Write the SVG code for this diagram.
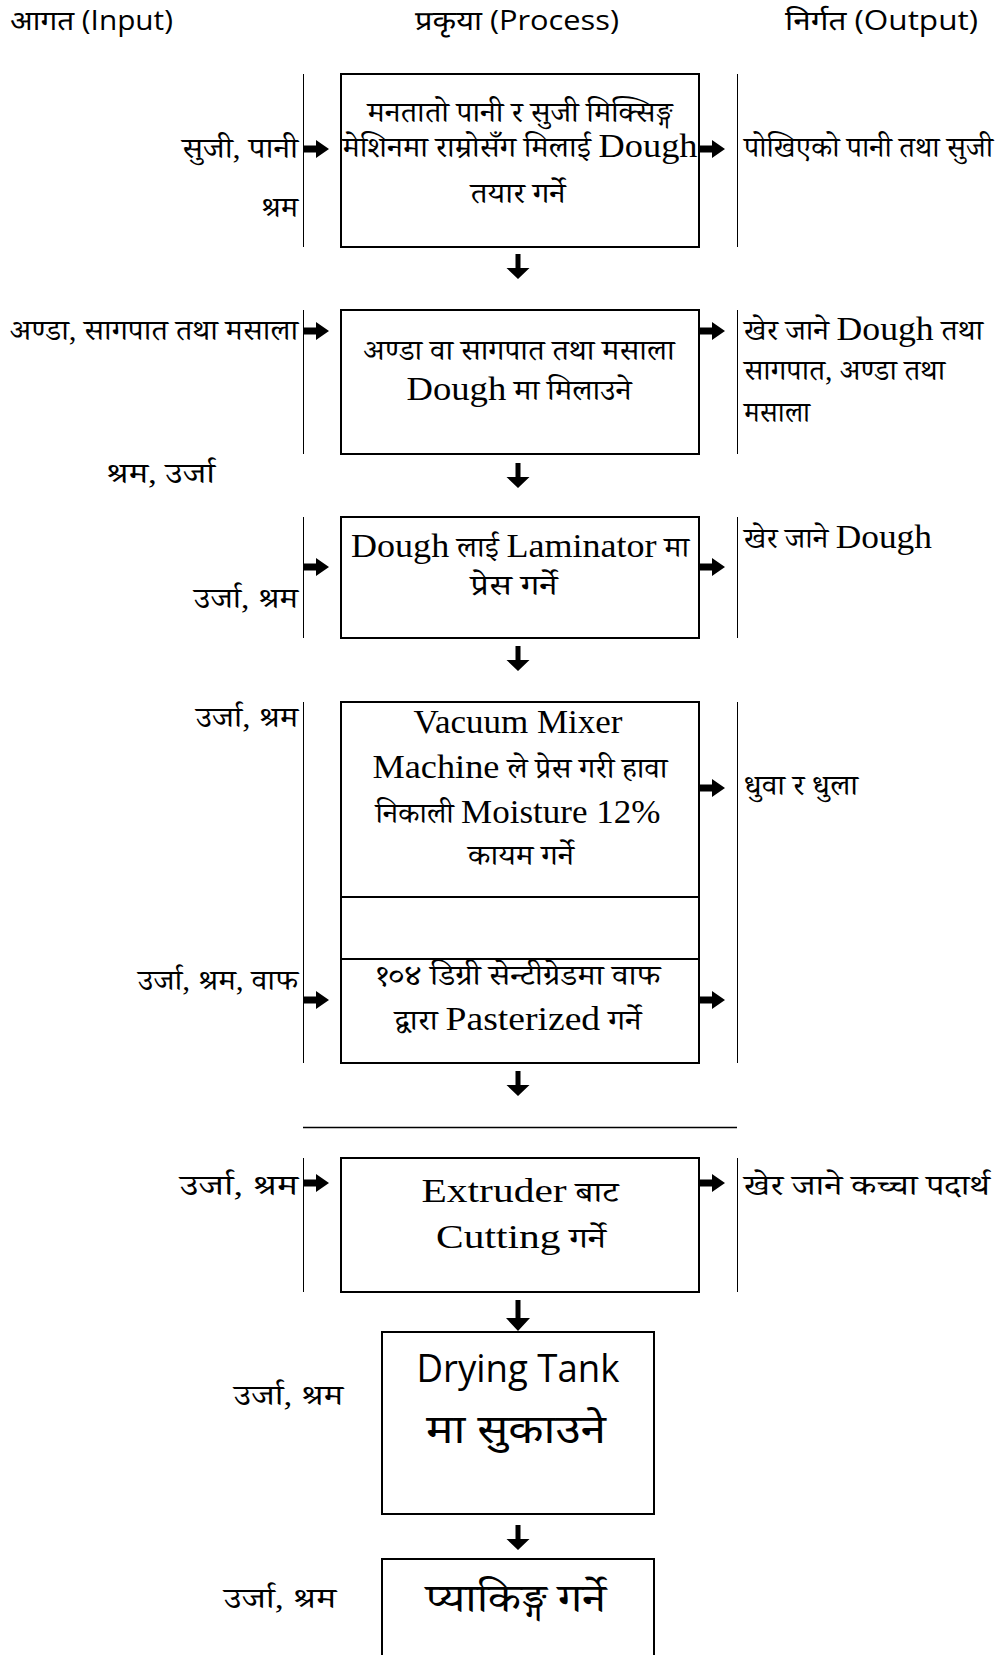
<svg xmlns="http://www.w3.org/2000/svg" width="1000" height="1655" viewBox="0 0 1000 1655">
<style>
.dv{font-family:"Liberation Serif","Noto Serif Devanagari","Noto Sans Devanagari","Lohit Devanagari",serif;font-size:29px;fill:#000}
.lt{font-family:"Liberation Serif",serif;font-size:34px}
.hd{font-family:"Open Sans","Noto Sans Devanagari",sans-serif;font-size:30px;fill:#000}
.top{font-size:27px}
.big{font-size:40px}
.box{fill:#fff;stroke:#000;stroke-width:2}
.vl{stroke:#000;stroke-width:1;fill:none}
.arr{fill:#000}
</style>
<defs>
<path id="ra" d="M0,-3.5H12V-9L25,0L12,9V3.5H0Z"/>
<path id="da" d="M-2.5,0H2.5V14H11.5L0,25L-11.5,14H-2.5Z"/>
</defs>
<rect width="1000" height="1655" fill="#fff"/>

<g id="header">
<text class="hd top" x="10" y="30" textLength="163" lengthAdjust="spacingAndGlyphs">आगत (Input)</text>
<text class="hd top" x="415" y="30" textLength="204" lengthAdjust="spacingAndGlyphs">प्रकृया (Process)</text>
<text class="hd top" x="785" y="30" textLength="193" lengthAdjust="spacingAndGlyphs">निर्गत (Output)</text>
</g>

<g id="connectors">
<line class="vl" x1="303.5" y1="74" x2="303.5" y2="247"/>
<line class="vl" x1="737.5" y1="74" x2="737.5" y2="247"/>
<line class="vl" x1="303.5" y1="310" x2="303.5" y2="454"/>
<line class="vl" x1="737.5" y1="310" x2="737.5" y2="454"/>
<line class="vl" x1="303.5" y1="517" x2="303.5" y2="638"/>
<line class="vl" x1="737.5" y1="517" x2="737.5" y2="638"/>
<line class="vl" x1="303.5" y1="702" x2="303.5" y2="1063"/>
<line class="vl" x1="737.5" y1="702" x2="737.5" y2="1063"/>
<line class="vl" x1="303.5" y1="1158" x2="303.5" y2="1292"/>
<line class="vl" x1="737.5" y1="1158" x2="737.5" y2="1292"/>
<line class="vl" x1="303" y1="1127.5" x2="737" y2="1127.5" style="stroke-width:1.5"/>
<g class="arr">
<use href="#ra" x="304" y="149"/>
<use href="#ra" x="700" y="149"/>
<use href="#ra" x="304" y="331"/>
<use href="#ra" x="700" y="331"/>
<use href="#ra" x="304" y="567"/>
<use href="#ra" x="700" y="567"/>
<use href="#ra" x="700" y="788"/>
<use href="#ra" x="304" y="1000"/>
<use href="#ra" x="700" y="1000"/>
<use href="#ra" x="304" y="1183"/>
<use href="#ra" x="700" y="1183"/>
<use href="#da" x="518" y="254"/>
<use href="#da" x="518" y="463"/>
<use href="#da" x="518" y="646"/>
<use href="#da" x="518" y="904"/>
<use href="#da" x="518" y="1071"/>
<path d="M515.5,1300H520.5V1318H530L518,1331L506,1318H515.5Z"/>
<use href="#da" x="518" y="1525"/>
</g>
</g>

<g id="node1">
<rect class="box" x="341" y="74" width="358" height="173"/>
<text class="dv" x="520" y="122" text-anchor="middle" textLength="305" lengthAdjust="spacingAndGlyphs">मनतातो पानी र सुजी मिक्सिङ्ग</text>
<text class="dv" x="520" y="157" text-anchor="middle" textLength="355" lengthAdjust="spacingAndGlyphs">मेशिनमा राम्रोसँग मिलाई <tspan class="lt">Dough</tspan></text>
<text class="dv" x="518" y="203" text-anchor="middle" textLength="95" lengthAdjust="spacingAndGlyphs">तयार गर्ने</text>
</g>
<g id="in1">
<text class="dv" x="298" y="158" text-anchor="end" textLength="116" lengthAdjust="spacingAndGlyphs">सुजी, पानी</text>
<text class="dv" x="298" y="217" text-anchor="end" textLength="37" lengthAdjust="spacingAndGlyphs">श्रम</text>
</g>
<g id="out1">
<text class="dv" x="744" y="157" textLength="249" lengthAdjust="spacingAndGlyphs">पोखिएको पानी तथा सुजी</text>
</g>

<g id="node2">
<rect class="box" x="341" y="310" width="358" height="144"/>
<text class="dv" x="519" y="360" text-anchor="middle" textLength="311" lengthAdjust="spacingAndGlyphs">अण्डा वा सागपात तथा मसाला</text>
<text class="dv" x="519" y="400" text-anchor="middle" textLength="225" lengthAdjust="spacingAndGlyphs"><tspan class="lt">Dough</tspan> मा मिलाउने</text>
</g>
<g id="in2">
<text class="dv" x="298" y="340" text-anchor="end" textLength="288" lengthAdjust="spacingAndGlyphs">अण्डा, सागपात तथा मसाला</text>
<text class="dv" x="106" y="483" textLength="109" lengthAdjust="spacingAndGlyphs">श्रम, उर्जा</text>
</g>
<g id="out2">
<text class="dv" x="744" y="340" textLength="239" lengthAdjust="spacingAndGlyphs">खेर जाने <tspan class="lt">Dough</tspan> तथा</text>
<text class="dv" x="744" y="380" textLength="201" lengthAdjust="spacingAndGlyphs">सागपात, अण्डा तथा</text>
<text class="dv" x="744" y="422" textLength="66" lengthAdjust="spacingAndGlyphs">मसाला</text>
</g>

<g id="node3">
<rect class="box" x="341" y="517" width="358" height="121"/>
<text class="dv" x="520" y="557" text-anchor="middle" textLength="338" lengthAdjust="spacingAndGlyphs"><tspan class="lt">Dough</tspan> लाई <tspan class="lt">Laminator</tspan> मा</text>
<text class="dv" x="514" y="595" text-anchor="middle" textLength="87" lengthAdjust="spacingAndGlyphs">प्रेस गर्ने</text>
</g>
<g id="in3">
<text class="dv" x="298" y="608" text-anchor="end" textLength="104" lengthAdjust="spacingAndGlyphs">उर्जा, श्रम</text>
</g>
<g id="out3">
<text class="dv" x="744" y="548" textLength="188" lengthAdjust="spacingAndGlyphs">खेर जाने <tspan class="lt">Dough</tspan></text>
</g>

<g id="node4">
<rect class="box" x="341" y="702" width="358" height="361"/>
<line class="box" x1="341" y1="897" x2="699" y2="897"/>
<line class="box" x1="341" y1="959" x2="699" y2="959"/>
<text class="dv" x="518" y="733" text-anchor="middle" textLength="209" lengthAdjust="spacingAndGlyphs"><tspan class="lt">Vacuum Mixer</tspan></text>
<text class="dv" x="520" y="778" text-anchor="middle" textLength="295" lengthAdjust="spacingAndGlyphs"><tspan class="lt">Machine</tspan> ले प्रेस गरी हावा</text>
<text class="dv" x="518" y="823" text-anchor="middle" textLength="285" lengthAdjust="spacingAndGlyphs">निकाली <tspan class="lt">Moisture 12%</tspan></text>
<text class="dv" x="521" y="865" text-anchor="middle" textLength="106" lengthAdjust="spacingAndGlyphs">कायम गर्ने</text>
<text class="dv" x="518" y="985" text-anchor="middle" textLength="285" lengthAdjust="spacingAndGlyphs">१०४ डिग्री सेन्टीग्रेडमा वाफ</text>
<text class="dv" x="518" y="1030" text-anchor="middle" textLength="247" lengthAdjust="spacingAndGlyphs">द्वारा <tspan class="lt">Pasterized</tspan> गर्ने</text>
</g>
<g id="in4">
<text class="dv" x="298" y="727" text-anchor="end" textLength="102" lengthAdjust="spacingAndGlyphs">उर्जा, श्रम</text>
<text class="dv" x="298" y="990" text-anchor="end" textLength="160" lengthAdjust="spacingAndGlyphs">उर्जा, श्रम, वाफ</text>
</g>
<g id="out4">
<text class="dv" x="744" y="795" textLength="114" lengthAdjust="spacingAndGlyphs">धुवा र धुला</text>
</g>

<g id="node5">
<rect class="box" x="341" y="1158" width="358" height="134"/>
<text class="dv" x="520" y="1202" text-anchor="middle" textLength="197" lengthAdjust="spacingAndGlyphs"><tspan class="lt">Extruder</tspan> बाट</text>
<text class="dv" x="521" y="1248" text-anchor="middle" textLength="170" lengthAdjust="spacingAndGlyphs"><tspan class="lt">Cutting</tspan> गर्ने</text>
</g>
<g id="in5">
<text class="dv" x="298" y="1195" text-anchor="end" textLength="118" lengthAdjust="spacingAndGlyphs">उर्जा, श्रम</text>
</g>
<g id="out5">
<text class="dv" x="744" y="1195" textLength="246" lengthAdjust="spacingAndGlyphs">खेर जाने कच्चा पदार्थ</text>
</g>

<g id="node6">
<rect class="box" x="382" y="1332" width="272" height="182"/>
<text class="hd" x="518" y="1382" text-anchor="middle" textLength="203" lengthAdjust="spacingAndGlyphs" style="font-size:38px">Drying Tank</text>
<text class="hd big" x="516" y="1443" text-anchor="middle" textLength="180" lengthAdjust="spacingAndGlyphs">मा सुकाउने</text>
</g>
<g id="in6">
<text class="dv" x="234" y="1405" textLength="109" lengthAdjust="spacingAndGlyphs">उर्जा, श्रम</text>
</g>

<g id="node7">
<rect class="box" x="382" y="1559" width="272" height="120"/>
<text class="dv big" x="516" y="1612" text-anchor="middle" textLength="180" lengthAdjust="spacingAndGlyphs">प्याकिङ्ग गर्ने</text>
</g>
<g id="in7">
<text class="dv" x="224" y="1608" textLength="112" lengthAdjust="spacingAndGlyphs">उर्जा, श्रम</text>
</g>
</svg>
